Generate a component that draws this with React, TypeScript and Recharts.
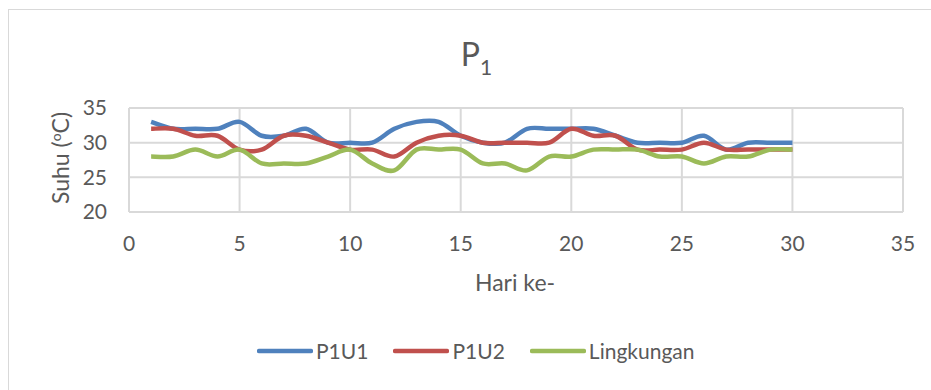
import { CartesianGrid, Legend, Line, LineChart, XAxis, YAxis } from "recharts";

const days = [1, 2, 3, 4, 5, 6, 7, 8, 9, 10, 11, 12, 13, 14, 15, 16, 17, 18, 19, 20, 21, 22, 23, 24, 25, 26, 27, 28, 29, 30];
const p1u1 = [33, 32, 32, 32, 33, 31, 31, 32, 30, 30, 30, 32, 33, 33, 31, 30, 30, 32, 32, 32, 32, 31, 30, 30, 30, 31, 29, 30, 30, 30];
const p1u2 = [32, 32, 31, 31, 29, 29, 31, 31, 30, 29, 29, 28, 30, 31, 31, 30, 30, 30, 30, 32, 31, 31, 29, 29, 29, 30, 29, 29, 29, 29];
const lingkungan = [28, 28, 29, 28, 29, 27, 27, 27, 28, 29, 27, 26, 29, 29, 29, 27, 27, 26, 28, 28, 29, 29, 29, 28, 28, 27, 28, 28, 29, 29];
const xTicks = [0, 5, 10, 15, 20, 25, 30, 35];
const yTicks = [20, 25, 30, 35];

const series = [
  { key: "P1U1", color: "#4F81BD" },
  { key: "P1U2", color: "#C0504D" },
  { key: "Lingkungan", color: "#9BBB59" },
];

const rows = days.map((d, i) => ({ day: d, P1U1: p1u1[i], P1U2: p1u2[i], Lingkungan: lingkungan[i] }));

const FONT = "Lato, 'Noto Sans', sans-serif";
const TEXT = "#595959";

// catmull-rom style smoothing, close to excel's "smoothed line"
function smooth(context: any) {
  let pts: number[][] = [];
  return {
    areaStart() {},
    areaEnd() {},
    lineStart() {
      pts = [];
    },
    point(x: number, y: number) {
      pts.push([+x, +y]);
    },
    lineEnd() {
      const n = pts.length;
      if (!n) return;
      context.moveTo(pts[0][0], pts[0][1]);
      for (let i = 0; i < n - 1; i++) {
        const p0 = pts[Math.max(i - 1, 0)];
        const p1 = pts[i];
        const p2 = pts[i + 1];
        const p3 = pts[Math.min(i + 2, n - 1)];
        context.bezierCurveTo(
          p1[0] + (p2[0] - p0[0]) / 6,
          p1[1] + (p2[1] - p0[1]) / 6,
          p2[0] - (p3[0] - p1[0]) / 6,
          p2[1] - (p3[1] - p1[1]) / 6,
          p2[0],
          p2[1]
        );
      }
    },
  };
}

function LegendBox() {
  return (
    <div style={{ display: "flex", alignItems: "center", fontFamily: FONT, fontSize: 21, color: TEXT }}>
      {series.map((s) => (
        <div key={s.key} style={{ display: "flex", alignItems: "center", marginRight: 25 }}>
          <svg width={56} height={8} style={{ marginRight: 3 }}>
            <line x1={2} y1={4} x2={54} y2={4} stroke={s.color} strokeWidth={4.5} strokeLinecap="round" />
          </svg>
          <span>{s.key}</span>
        </div>
      ))}
    </div>
  );
}

export default function App() {
  return (
    <div style={{ position: "absolute", left: 0, top: 0, width: 931, height: 390, background: "#fff", overflow: "hidden" }}>
      <div style={{ position: "absolute", left: 8, top: 9, width: 940, height: 400, borderLeft: "1px solid #D9D9D9", borderTop: "1px solid #D9D9D9" }} />
      <div style={{ position: "absolute", left: 0, top: 38, width: 931, textAlign: "center", paddingLeft: 22, boxSizing: "border-box", fontFamily: FONT, fontSize: 32, color: TEXT, lineHeight: "32px" }}>
        P<sub style={{ fontSize: 21, verticalAlign: "-9px" }}>1</sub>
      </div>
      <LineChart width={931} height={390} data={rows} margin={{ top: 108, right: 28, bottom: 148, left: 0 }} style={{ position: "absolute", left: 0, top: 0 }}>
        <CartesianGrid stroke="#D9D9D9" strokeWidth={2} horizontalValues={yTicks} verticalValues={xTicks} />
        <XAxis
          dataKey="day"
          type="number"
          domain={[0, 35]}
          ticks={xTicks}
          axisLine={false}
          tickLine={false}
          tickSize={0}
          tickMargin={24}
          height={30}
          tick={{ fill: TEXT, fontSize: 21, fontFamily: FONT }}
          label={{
            content: () => (
              <text x={515} y={291} textAnchor="middle" fill={TEXT} fontSize={23} fontFamily={FONT}>
                Hari ke-
              </text>
            ),
          }}
        />
        <YAxis
          type="number"
          domain={[20, 35]}
          ticks={yTicks}
          axisLine={false}
          tickLine={false}
          tickSize={0}
          tickMargin={22}
          width={129}
          tick={{ fill: TEXT, fontSize: 21, fontFamily: FONT }}
          label={{
            content: () => (
              <text transform="translate(69,158) rotate(-90)" textAnchor="middle" fill={TEXT} fontSize={23} fontFamily={FONT}>
                Suhu (<tspan fontSize={14} dy={-8}>o</tspan>
                <tspan dy={8}>C)</tspan>
              </text>
            ),
          }}
        />
        {series.map((s) => (
          <Line
            key={s.key}
            type={smooth as any}
            dataKey={s.key}
            stroke={s.color}
            strokeWidth={4.5}
            dot={false}
            isAnimationActive={false}
          />
        ))}
        <Legend
          layout="horizontal"
          verticalAlign="middle"
          align="center"
          content={() => <LegendBox />}
          wrapperStyle={{ left: 257, top: 338, width: "auto" }}
        />
      </LineChart>
    </div>
  );
}
